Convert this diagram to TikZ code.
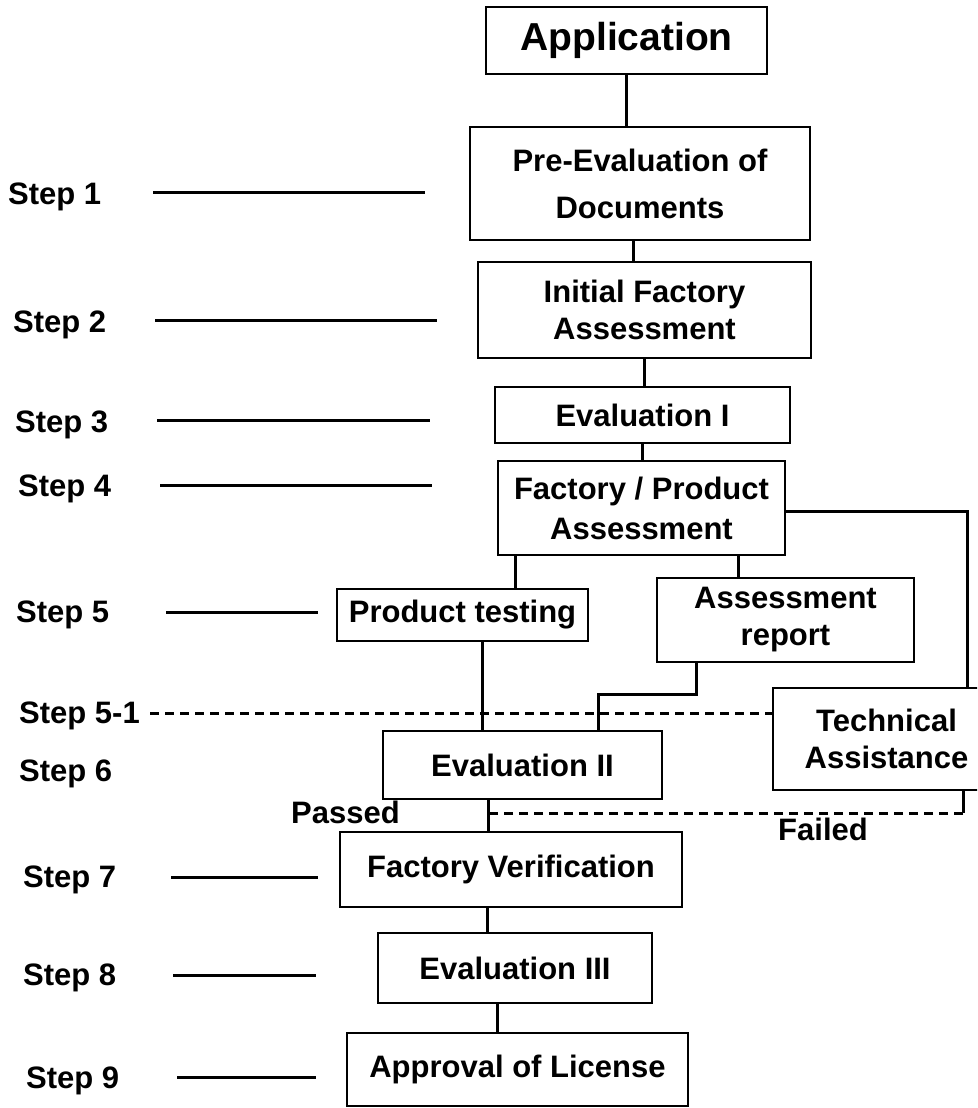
\documentclass[tikz,border=0pt]{standalone}
\usepackage{fontspec}
\setmainfont{Liberation Sans}
\begin{document}
\begin{tikzpicture}[x=1pt,y=-1pt,
  txt/.style={font=\bfseries\fontsize{31}{37}\selectfont},
  box/.style={draw, line width=2.6pt, rectangle, align=center, inner sep=0pt, txt},
  steplab/.style={anchor=base west, inner sep=0pt, txt},
  wire/.style={line width=3pt},
  dashline/.style={line width=3pt, dash pattern=on 9pt off 6pt}]
\useasboundingbox (0,0) rectangle (977,1108);
\clip (0,0) rectangle (977,1108);

% main chain of boxes
\node[box, minimum width=281, minimum height=67, font=\bfseries\fontsize{39}{44}\selectfont] (app) at (626.5,40.5) {Application};
\node[box, minimum width=340, minimum height=113] (pre) at (640,183.5) {Pre-Evaluation of\\[10pt]Documents};
\node[box, minimum width=333, minimum height=96]  (ifa) at (644.5,310) {Initial Factory\\Assessment};
\node[box, minimum width=295, minimum height=56]  (ev1) at (642.5,415) {Evaluation I};
\node[box, minimum width=287, minimum height=94]  (fpa) at (641.5,508) {Factory / Product\\[3pt]Assessment};
\node[box, minimum width=251, minimum height=52]  (pt)  at (462.5,615) {Product testing};
\node[box, minimum width=257, minimum height=84]  (ar)  at (785.5,620) {Assessment\\report};
\node[box, minimum width=227, minimum height=102] (ta)  at (886.5,739) {Technical\\Assistance};
\node[box, minimum width=279, minimum height=68]  (ev2) at (522.5,765) {Evaluation II};
\node[box, minimum width=342, minimum height=75]  (fv)  at (511,869.5) {Factory Verification};
\node[box, minimum width=274, minimum height=70]  (ev3) at (515,968) {Evaluation III};
\node[box, minimum width=341, minimum height=73]  (apl) at (517.5,1069.5) {Approval of License};

% connectors between boxes
\draw[wire] (app.south) -- (app.south |- pre.north);
\draw[wire] ([xshift=-7]pre.south) -- ([xshift=-7]pre.south |- ifa.north);
\draw[wire] (ifa.south) -- (ifa.south |- ev1.north);
\draw[wire] (ev1.south) -- (ev1.south |- fpa.north);
\draw[wire] ([xshift=-126.5]fpa.south) -- ([xshift=-126.5]fpa.south |- pt.north);
\draw[wire] ([xshift=96.5]fpa.south) -- ([xshift=96.5]fpa.south |- ar.north);
\draw[wire] ([yshift=-3]fpa.east) -| ([xshift=80.5]ta.north);
\draw[wire] ([xshift=19.5]pt.south) -- ([xshift=19.5]pt.south |- ev2.north);
\draw[wire] ([xshift=-89.5]ar.south) -- ++(0,31) -| ([xshift=75.5]ev2.north);
\draw[wire] ([xshift=-34.5]ev2.south) -- ([xshift=-34.5]ev2.south |- fv.north);
\draw[wire] ([xshift=-24]fv.south) -- ([xshift=-24]fv.south |- ev3.north);
\draw[wire] ([xshift=-18]ev3.south) -- ([xshift=-18]ev3.south |- apl.north);

% feedback from technical assistance
\coordinate (fail) at ([xshift=76.5]ta.south |- 0,813);
\coordinate (pj) at ([xshift=-34.5]ev2.south |- fail);
\draw[wire] ([xshift=76.5]ta.south) -- (fail);
\draw[dashline] (fail) -- (pj);
\node[anchor=base east, inner sep=0pt, txt] (passed) at (400,823) {Passed};
\node[anchor=base west, inner sep=0pt, txt] (failed) at (778,840) {Failed};

% step labels and leader lines
\node[steplab] (s1)  at (8,204)   {Step 1};
\node[steplab] (s2)  at (13,332)  {Step 2};
\node[steplab] (s3)  at (15,432)  {Step 3};
\node[steplab] (s4)  at (18,496)  {Step 4};
\node[steplab] (s5)  at (16,622)  {Step 5};
\node[steplab] (s51) at (19,723)  {Step 5-1};
\node[steplab] (s6)  at (19,781)  {Step 6};
\node[steplab] (s7)  at (23,887)  {Step 7};
\node[steplab] (s8)  at (23,985)  {Step 8};
\node[steplab] (s9)  at (26,1088) {Step 9};

\coordinate (l1a) at (153,192);  \coordinate (l1b) at (425,192);
\coordinate (l2a) at (155,320);  \coordinate (l2b) at (437,320);
\coordinate (l3a) at (157,420);  \coordinate (l3b) at (430,420);
\coordinate (l4a) at (160,485);  \coordinate (l4b) at (432,485);
\coordinate (l5a) at (166,612);  \coordinate (l5b) at (318,612);
\coordinate (l7a) at (171,877);  \coordinate (l7b) at (318,877);
\coordinate (l8a) at (173,975);  \coordinate (l8b) at (316,975);
\coordinate (l9a) at (177,1077); \coordinate (l9b) at (316,1077);
\foreach \i in {1,2,3,4,5,7,8,9}
  \draw[wire] (l\i a) -- (l\i b);

\coordinate (l51a) at (150,713);
\draw[dashline] (l51a) -- (l51a -| ta.west);
\end{tikzpicture}
\end{document}
